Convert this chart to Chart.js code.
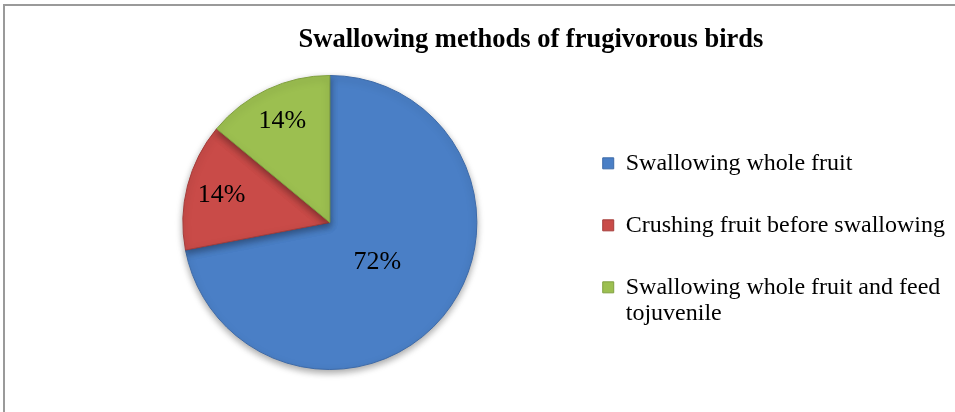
<!DOCTYPE html>
<html>
<head>
<meta charset="utf-8">
<script src="https://cdn.jsdelivr.net/npm/chart.js@4.4.1/dist/chart.umd.min.js"></script>
<style>
  html, body { margin: 0; padding: 0; background: #fff; }
  #wrap { position: relative; width: 955px; height: 412px; }
</style>
</head>
<body>
<div id="wrap"><canvas id="myChart" width="955" height="412"></canvas></div>
<script>
const chartTitle = 'Swallowing methods of frugivorous birds';
const labels = ['Swallowing whole fruit', 'Crushing fruit before swallowing', ['Swallowing whole fruit and feed', 'tojuvenile']];
const values = [72, 14, 14];
const colors = ['#4a7fc6', '#c94b48', '#9cbf50'];
const edgeColors = ['#3d6aa8', '#a53c3a', '#80a040'];
// how far out each percent label sits (fraction of radius)
const labelRadius = [0.42, 0.76, 0.76];

const serif = "'Liberation Serif', 'Times New Roman', serif";

// frame lines + title, drawn by hand so the title can sit off-centre like the original
const frameTitle = {
    id: 'frameTitle',
    beforeDraw(chart, args, opts) {
        const ctx = chart.ctx;
        ctx.save();
        ctx.strokeStyle = '#9a9a9a';
        ctx.lineWidth = 2;
        ctx.strokeRect(4, 5, chart.width + 10, chart.height + 10);
        ctx.fillStyle = '#000';
        ctx.font = 'bold 26.5px ' + serif;
        ctx.textAlign = 'center';
        ctx.textBaseline = 'middle';
        ctx.fillText(opts.text, opts.x, opts.y);
        ctx.restore();
    }
};

const pieShadow = {
    id: 'pieShadow',
    beforeDatasetsDraw(chart) {
        const ctx = chart.ctx;
        ctx.save();
        ctx.shadowColor = 'rgba(0,0,0,0.35)';
        ctx.shadowBlur = 7;
        ctx.shadowOffsetY = 3;
    },
    afterDatasetsDraw(chart) {
        chart.ctx.restore();
    }
};

const sliceLabels = {
    id: 'sliceLabels',
    afterDatasetsDraw(chart) {
        const ctx = chart.ctx;
        const meta = chart.getDatasetMeta(0);
        ctx.save();
        ctx.fillStyle = '#000';
        ctx.font = '26px ' + serif;
        ctx.textAlign = 'center';
        ctx.textBaseline = 'middle';
        meta.data.forEach((arc, i) => {
            const p = arc.getProps(['x', 'y', 'startAngle', 'endAngle', 'outerRadius'], true);
            const mid = (p.startAngle + p.endAngle) / 2;
            const r = p.outerRadius * labelRadius[i];
            ctx.fillText(values[i] + '%', p.x + Math.cos(mid) * r, p.y + Math.sin(mid) * r);
        });
        ctx.restore();
    }
};

const ctx = document.getElementById('myChart').getContext('2d');
const myChart = new Chart(ctx, {
    type: 'pie',
    data: {
        labels: labels,
        datasets: [{
            data: values,
            backgroundColor: colors,
            borderColor: edgeColors,
            borderWidth: 1
        }]
    },
    options: {
        responsive: false,
        animation: false,
        layout: {
            padding: { left: 95, top: 75, bottom: 42, right: 0 }
        },
        plugins: {
            frameTitle: { text: chartTitle, x: 531, y: 40 },
            title: { display: false },
            tooltip: { enabled: false },
            legend: {
                position: 'right',
                title: {
                    display: true,
                    text: '',
                    font: { size: 10, lineHeight: 1 },
                    padding: { top: 24, bottom: 0 }
                },
                labels: {
                    color: '#000',
                    font: { family: serif, size: 24, lineHeight: 1.09 },
                    boxWidth: 11,
                    boxHeight: 11,
                    padding: 38
                }
            }
        }
    },
    plugins: [frameTitle, pieShadow, sliceLabels]
});
</script>
</body>
</html>
